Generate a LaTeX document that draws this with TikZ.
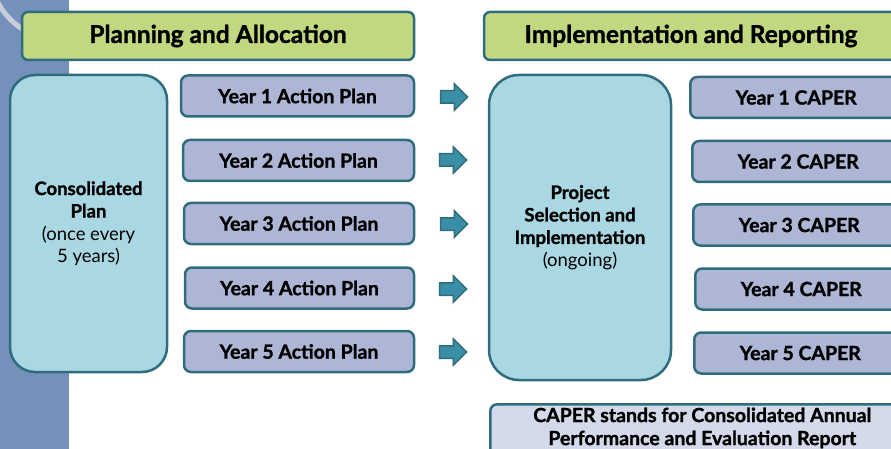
\documentclass[tikz,border=0pt]{standalone}
\usepackage{fontspec}
\setmainfont{Lato}[BoldFeatures={FakeBold=1.3}]
\usetikzlibrary{shapes.arrows}
\definecolor{edgeteal}{HTML}{2F6D7E}
\definecolor{headgreen}{HTML}{C1D880}
\definecolor{planblue}{HTML}{A9D8E3}
\definecolor{yearlav}{HTML}{AEB6D6}
\definecolor{arrowteal}{HTML}{3A8FA6}
\definecolor{slideblue}{HTML}{7591BA}
\definecolor{notelav}{HTML}{D4DAEA}
\definecolor{arcgray}{HTML}{C7CED9}
\tikzset{
headbox/.style={draw=edgeteal, line width=2.5pt, fill=headgreen, rounded corners=6pt,
  minimum height=48pt, font=\fontsize{24.5}{28}\selectfont\bfseries},
bigbox/.style={draw=edgeteal, line width=2.5pt, fill=planblue, align=center,
  font=\fontsize{18.5}{22.5}\selectfont},
yearbox/.style={draw=edgeteal, line width=2.5pt, fill=yearlav, rounded corners=7pt,
  minimum height=41pt, font=\fontsize{19.5}{22}\selectfont\bfseries},
caperbox/.style={yearbox, anchor=west, minimum width=212pt},
notebox/.style={draw=edgeteal, line width=2.5pt, fill=notelav, rounded corners=7pt,
  align=center, font=\fontsize{19.5}{23}\selectfont\bfseries},
blockarrow/.style={single arrow, draw=edgeteal, line width=1.5pt, fill=arrowteal,
  minimum height=27pt, minimum width=25pt, single arrow head extend=7pt, inner sep=5.5pt}
}
\begin{document}
\begin{tikzpicture}[x=1pt,y=-1pt]
  \useasboundingbox (0,0) rectangle (891,449);
  \clip (0,0) rectangle (891,449);
  % slide background
  \fill[slideblue] (0,0) rectangle (69,449);
  \begin{scope}
    \clip (0,0) rectangle (69,449);
    \draw[color=arcgray, line width=5pt] (60,-30) circle [radius=70];
  \end{scope}
  % headers
  \node[headbox, minimum width=392pt] (plan) at (218,36) {Planning and Allocation};
  \node[headbox, minimum width=414pt] (impl) at (691,36) {Implementation and Reporting};
  % left column
  \node[bigbox, rounded corners=25pt, minimum width=157pt, minimum height=297pt] (cons) at (88.5,223.5)
    {\textbf{Consolidated}\\\textbf{Plan}\\(once every\\5 years)};
  \node[yearbox, minimum width=233pt] (ap1) at (297.5,96) {Year 1 Action Plan};
  \node[yearbox, minimum width=231pt] (ap2) at (298.5,160.5) {Year 2 Action Plan};
  \node[yearbox, minimum width=230pt] (ap3) at (299,223.5) {Year 3 Action Plan};
  \node[yearbox, minimum width=229pt] (ap4) at (299.5,288) {Year 4 Action Plan};
  \node[yearbox, minimum width=230pt] (ap5) at (299,351.5) {Year 5 Action Plan};
  % arrows
  \node[blockarrow] (arr1) at (451,97) {};
  \node[blockarrow] (arr2) at (450,160) {};
  \node[blockarrow] (arr3) at (451,224) {};
  \node[blockarrow] (arr4) at (450,289) {};
  \node[blockarrow] (arr5) at (450,352) {};
  % right column
  \node[bigbox, rounded corners=30pt, minimum width=182pt, minimum height=305pt] (proj) at (580,227.5)
    {\textbf{Project}\\\textbf{Selection and}\\\textbf{Implementation}\\(ongoing)};
  \node[caperbox] (cp1) at (689,97.5) {Year 1 CAPER};
  \node[caperbox] (cp2) at (691,161.5) {Year 2 CAPER};
  \node[caperbox] (cp3) at (692,225) {Year 3 CAPER};
  \node[caperbox] (cp4) at (694,289) {Year 4 CAPER};
  \node[caperbox] (cp5) at (693,353) {Year 5 CAPER};
  \node[notebox, anchor=north west, minimum width=424pt, minimum height=70pt] (note) at (489,403)
    {CAPER stands for Consolidated Annual\\Performance and Evaluation Report\\ \strut};
\end{tikzpicture}
\end{document}
